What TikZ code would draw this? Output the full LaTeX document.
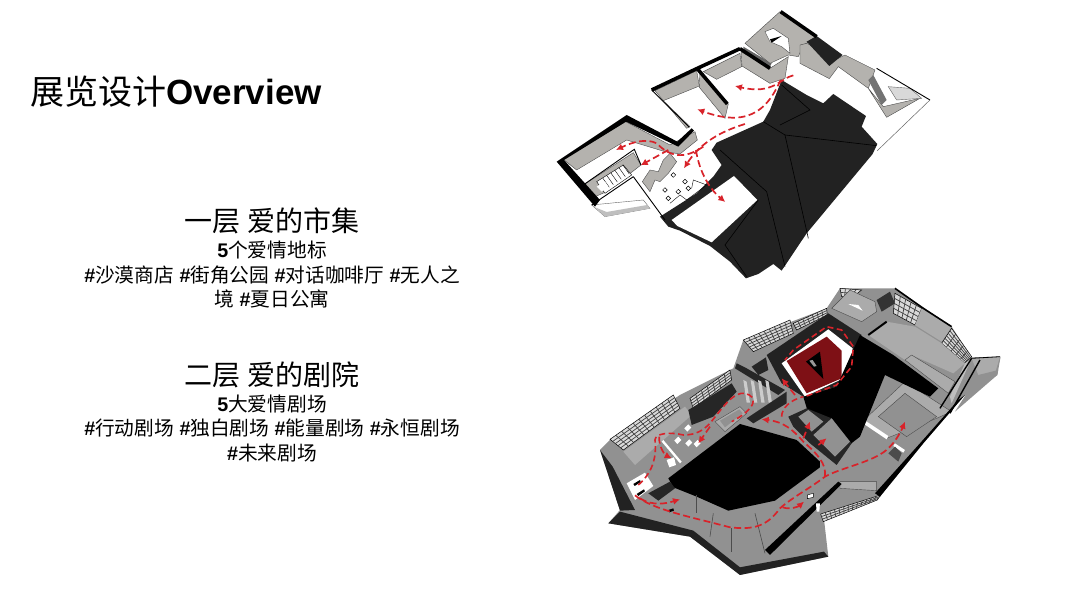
\documentclass[tikz,border=0pt]{standalone}
\usepackage{fontspec}
\setmainfont{Liberation Sans}
\newfontfamily\cjk{Noto Sans CJK SC}
\usetikzlibrary{calc,arrows.meta}
\definecolor{route_red}{HTML}{D8232A}
\definecolor{theatre_red}{HTML}{7E1015}
\definecolor{roof_black}{HTML}{222222}
\definecolor{wall_grey}{HTML}{B4B2AE}
\definecolor{floor_grey}{HTML}{919191}
\definecolor{room_grey}{HTML}{ABABAB}
\newcommand{\tagname}[1]{\textbf{\#}{\cjk #1}}
% glass facade: four corners, grid of mullions
\newcommand{\glasspanel}[6]{%
  \path[fill=white!85!black,draw=black,line width=.5pt] (#1) -- (#2) -- (#3) -- (#4) -- cycle;
  \foreach \t in {1,...,#5} {
    \draw[black!75,line width=.7pt] ($(#1)!{\t/(#5+1)}!(#2)$) -- ($(#4)!{\t/(#5+1)}!(#3)$);
  }
  \foreach \t in {1,...,#6} {
    \draw[black!75,line width=.7pt] ($(#1)!{\t/(#6+1)}!(#4)$) -- ($(#2)!{\t/(#6+1)}!(#3)$);
  }
}
\begin{document}
\begin{tikzpicture}[x=1pt,y=-1pt,
    block_title/.style ={inner sep=0pt, anchor=west,
      font=\fontsize{34}{40}\selectfont},
    block_head/.style ={inner sep=0pt, text height=21pt, text depth=7pt,
      font=\fontsize{28}{30}\selectfont\cjk},
    block_sub/.style ={inner sep=0pt, text height=17pt, text depth=7pt,
      font=\fontsize{19.7}{24}\selectfont},
    block_tags/.style ={block_sub},
    roof/.style ={fill=roof_black},
    wall_top/.style ={draw=black, line width=3.6pt, line join=miter},
    wall_face/.style ={fill=wall_grey, draw=black!70, line width=.4pt},
    thin_black/.style ={draw=black, line width=.9pt},
    crease/.style ={draw=black, line width=.6pt},
    route/.style ={draw=route_red, line width=1.7pt, dash pattern=on 7pt off 3.5pt,
      -{Latex[length=7pt,width=7pt]}},
    route_plain/.style ={draw=route_red, line width=1.6pt, dash pattern=on 6pt off 3.5pt}]
  \useasboundingbox (0,0) rectangle (1080,608);
  \path[fill=white] (0,0) rectangle (1080,608);
  % title
  \node [block_title] (exhibit_title) at (30,92) {{\cjk 展览设计}{\fontsize{35}{40}\selectfont\textbf{Overview}}};
  % text column, one row per printed line
  \matrix (text_column) [row sep=0pt, anchor=north] at (272,207) {
    \node [block_head] (floor_one) {一层 爱的市集}; \\[2pt]
    \node [block_sub] (floor_one_sub) {\textbf{5}{\cjk 个爱情地标}}; \\
    \node [block_tags] (floor_one_tags) {\tagname{沙漠商店} \tagname{街角公园} \tagname{对话咖啡厅} \tagname{无人之}}; \\
    \node [block_tags] (floor_one_more) {{\cjk 境} \tagname{夏日公寓}}; \\[51pt]
    \node [block_head] (floor_two) {二层 爱的剧院}; \\[2pt]
    \node [block_sub] (floor_two_sub) {\textbf{5}{\cjk 大爱情剧场}}; \\
    \node [block_tags] (floor_two_tags) {\tagname{行动剧场} \tagname{独白剧场} \tagname{能量剧场} \tagname{永恒剧场}}; \\
    \node [block_tags] (floor_two_more) {\tagname{未来剧场}}; \\
  };% end matrix

  % ---- ground floor plan, coordinates in zoomed units
  \begin{scope}[shift={(540,0)},x=.3333pt,y=-.3333pt]
    % wall faces
    \path[wall_face] (70,478) -- (257,365) -- (390,435) -- (465,395) -- (472,420) -- (420,462) -- (375,455) -- (260,420) -- (110,510) -- cycle;
    \path[wall_face] (70,490) -- (130,555) -- (280,458) -- (303,495) -- (200,575) -- (165,590) -- cycle;
    \path[fill=white,draw=black,line width=.4pt] (170,545) -- (250,495) -- (275,525) -- (195,580) -- cycle;
    \foreach \t in {0,...,5} {
      \draw[black,line width=.4pt] ({188+\t*12},{534-\t*8}) -- ({208+\t*12},{562-\t*8});
    }
    \path[fill=white] (170,560) -- (195,545) -- (205,560) -- (185,575) -- cycle;
    \path[fill=white,draw=black!60,line width=.4pt] (155,615) -- (195,650) -- (330,625) -- (310,600) -- cycle;
    \path[fill=black!25] (165,622) -- (195,650) -- (330,625) -- (322,615) -- (200,636) -- cycle;
    \path[wall_face] (345,272) -- (470,212) -- (478,258) -- (370,302) -- (450,380) -- (440,385) -- cycle;
    \path[wall_face] (480,212) -- (565,312) -- (555,355) -- (478,262) -- cycle;
    \path[wall_face] (490,215) -- (600,160) -- (605,200) -- (530,238) -- cycle;
    \path[wall_face] (603,155) -- (690,205) -- (745,170) -- (735,235) -- (690,250) -- (606,198) -- cycle;
    \path[fill=black!60] (610,140) -- (695,190) -- (690,200) -- (612,155) -- cycle;
    % stair room at the top
    \path[wall_face] (615,130) -- (690,62) -- (720,35) -- (830,110) -- (800,130) -- (790,135) -- (775,170) -- (745,165) -- (690,190) -- cycle;
    \path[fill=white,draw=black!70,line width=.4pt] (675,95) -- (700,85) -- (745,115) -- (750,160) -- (725,140) -- (690,125) -- cycle;
    \path[fill=black] (690,118) -- (725,108) -- (695,128) -- cycle;
    % east walls
    \path[wall_face] (780,135) -- (800,130) -- (895,175) -- (915,165) -- (1005,210) -- (985,265) -- (1030,320) -- (1140,295) -- (1040,352) -- (985,265) -- (895,200) -- (868,236) -- (780,190) -- cycle;
    \path[fill=black!55] (985,240) -- (1000,225) -- (1040,300) -- (1025,315) -- cycle;
    \path[fill=black!15,draw=black!60,line width=.4pt] (1045,260) -- (1110,265) -- (1145,295) -- (1070,300) -- cycle;
    \draw[thin_black] (1010,205) -- (1170,300);
    \draw[black!60,line width=.5pt] (1170,300) -- (1012,452);
    \path[fill=roof_black] (800,125) -- (830,108) -- (908,165) -- (868,198) -- cycle;
    % roof with the loading yard cut out
    \path[roof] (515,450) -- (530,428) -- (670,365) -- (690,330) -- (725,240) -- (800,285) -- (850,310) -- (880,282) -- (978,348) -- (965,380) -- (1012,432) -- (998,462) -- (800,700) -- (725,812) -- (700,792) -- (655,822) -- (618,835) -- (570,785) -- (510,738) -- (420,692) -- (385,680) -- (360,650) -- (470,580) -- (520,530) -- (545,495) -- cycle;
    \path[fill=white] (582,528) -- (652,600) -- (515,727) -- (412,678) -- (395,660) -- cycle;
    \draw[crease] (670,365) -- (735,405) -- (1010,437);
    \draw[crease] (735,405) -- (805,715);
    \draw[crease] (720,375) -- (810,330) -- (725,255);
    \draw[crease] (540,450) -- (680,575) -- (735,800);
    \draw[crease] (655,600) -- (555,735) -- (620,830);
    % wall tops
    \path[fill=black] (50,485) -- (260,345) -- (412,425) -- (455,385) -- (462,392) -- (415,440) -- (258,365) -- (72,480) -- (180,600) -- (165,620) -- cycle;
    \draw[wall_top] (335,270) -- (470,206) -- (600,146);
    \draw[wall_top] (472,206) -- (562,312);
    \draw[wall_top] (600,146) -- (690,205);
    \draw[wall_top] (722,35) -- (830,110);
    \draw[thin_black] (335,270) -- (448,382);
    \draw[thin_black] (280,530) -- (375,660);
    \draw[thin_black] (155,615) -- (280,530);
    \draw[thin_black] (130,555) -- (283,448) -- (303,495);
    % seating
    \path[wall_face] (307,545) -- (330,510) -- (355,515) -- (370,480) -- (390,460) -- (410,485) -- (385,520) -- (360,545) -- (345,540) -- (330,575) -- cycle;
    \foreach \px/\py in {400/525,435/545,375/570,415/575,385/595,445/565} {
      \draw[black,line width=.5pt,fill=white] ({\px-7},\py) -- (\px,{\py-7}) -- ({\px+7},\py) -- (\px,{\py+7}) -- cycle;
    }
    \draw[black,line width=.4pt] (390,610) -- (420,585) -- (440,600) -- (500,555) -- (460,540) -- (455,565);
    % routes
    \draw[route] (760,226) .. controls (720,235) and (700,285) .. (585,258);
    \draw[route] (722,240) .. controls (690,310) and (640,390) .. (472,328);
    \draw[route] (615,372) .. controls (540,395) and (480,430) .. (432,505);
    \draw[route] (490,440) .. controls (430,480) and (390,470) .. (350,430) .. controls (320,415) and (280,425) .. (228,450);
    \draw[route] (385,450) -- (302,496);
    \draw[route] (468,450) .. controls (475,500) and (500,560) .. (556,606);
  \end{scope}

  % ---- upper floor plan
  \begin{scope}[shift={(590,280)},x=.3333pt,y=-.3333pt]
    \path[fill=floor_grey] (30,510) -- (60,480) -- (270,345) -- (430,265) -- (460,180) -- (710,85) -- (750,25) -- (915,25) -- (1085,140) -- (1145,232) -- (1232,230) -- (1222,285) -- (1120,350) -- (1000,490) -- (870,650) -- (700,700) -- (715,830) -- (450,885) -- (300,770) -- (55,730) -- (90,690) -- cycle;
    % glass facades
    \glasspanel{60,478}{250,345}{270,385}{100,510}{10}{4}
    \glasspanel{300,355}{420,270}{425,300}{310,385}{6}{3}
    \glasspanel{460,180}{600,120}{610,160}{490,215}{8}{4}
    \glasspanel{610,130}{710,85}{712,105}{620,150}{6}{2}
    \glasspanel{750,25}{815,30}{790,50}{755,50}{3}{1}
    \glasspanel{915,40}{995,85}{975,135}{910,100}{4}{3}
    \glasspanel{1085,145}{1145,230}{1125,250}{1055,190}{4}{5}
    \glasspanel{692,702}{872,645}{862,660}{700,725}{12}{2}
    \path[fill=room_grey] (100,515) -- (285,380) -- (305,405) -- (135,555) -- cycle;
    % light rooms on the east side
    \path[fill=room_grey] (995,85) -- (1085,140) -- (1055,185) -- (975,135) -- cycle;
    \path[fill=room_grey] (835,165) -- (890,125) -- (975,140) -- (1055,190) -- (1125,250) -- (1090,280) -- (965,225) -- (945,240) -- cycle;
    \draw[draw=black,line width=2pt] (835,165) -- (890,125);
    \draw[draw=black,line width=1.6pt] (915,25) -- (1000,85) -- (1085,140);
    \path[fill=room_grey,draw=black!70,line width=.4pt] (822,420) -- (945,305) -- (1085,395) -- (1040,415) -- (890,475) -- cycle;
    \path[fill=floor_grey,draw=black!70,line width=.4pt] (865,410) -- (945,340) -- (1040,410) -- (950,470) -- cycle;
    \path[fill=room_grey,draw=black!70,line width=.4pt] (945,240) -- (965,225) -- (1095,305) -- (1075,340) -- cycle;
    \path[fill=white] (820,418) -- (895,468) -- (890,478) -- (816,428) -- cycle;
    \path[fill=white] (915,490) -- (945,510) -- (940,518) -- (910,498) -- cycle;
    \path[fill=black!70] (895,520) -- (915,500) -- (935,520) -- (925,545) -- cycle;
    \path[fill=room_grey,draw=black!70,line width=.4pt] (750,605) -- (860,605) -- (860,632) -- (750,625) -- cycle;
    % stair room, north
    \path[fill=room_grey,draw=black!70,line width=.4pt] (725,85) -- (780,30) -- (855,65) -- (860,95) -- (815,125) -- cycle;
    \path[fill=white] (775,72) -- (805,75) -- (818,92) -- cycle;
    \path[fill=black!80] (860,60) -- (900,35) -- (915,70) -- (875,95) -- cycle;
    % east diagonal fins
    \path[fill=room_grey] (1145,235) -- (1230,230) -- (1215,280) -- (1165,285) -- cycle;
    \path[fill=floor_grey] (1165,285) -- (1225,270) -- (1222,285) -- (1095,395) -- cycle;
    \path[fill=white!75!black] (1080,350) -- (1125,250) -- (1145,235) -- (1085,370) -- cycle;
    \draw[black,line width=1.4pt] (1145,235) -- (1050,385);
    \draw[black,line width=1.4pt] (1170,240) -- (1080,400);
    \draw[black,line width=.8pt] (1145,235) -- (1230,230);
    \path[fill=black] (1125,345) -- (1000,490) -- (870,650) -- (855,640) -- (990,490) -- (1105,360) -- cycle;
    % theatre in the red room
    \path[fill=roof_black] (530,225) -- (715,100) -- (815,165) -- (740,320) -- (640,350) -- (575,310) -- cycle;
    \path[fill=white] (575,250) -- (715,148) -- (788,205) -- (775,288) -- (645,350) -- cycle;
    \path[fill=theatre_red] (590,243) -- (710,170) -- (755,212) -- (755,295) -- (650,340) -- cycle;
    \path[fill=black] (690,215) -- (648,245) -- (700,297) -- cycle;
    \path[fill=white!60!black] (658,242) -- (668,240) -- (680,258) -- (672,260) -- cycle;
    % black volumes
    \path[fill=black] (640,350) -- (740,320) -- (810,165) -- (910,225) -- (1045,325) -- (1020,350) -- (885,285) -- (810,470) -- (778,495) -- (720,420) -- (655,400) -- cycle;
    \path[fill=black] (235,595) -- (450,432) -- (620,480) -- (690,545) -- (690,562) -- (555,662) -- (415,692) -- (320,650) -- (250,622) -- cycle;
    \path[fill=black!85] (440,250) -- (470,265) -- (585,330) -- (565,345) -- (435,265) -- cycle;
    \path[fill=black!85] (295,390) -- (425,310) -- (440,335) -- (370,410) -- (305,435) -- cycle;
    \path[fill=black!85] (485,260) -- (528,232) -- (535,270) -- (505,285) -- cycle;
    \path[fill=room_grey,draw=black!70,line width=.4pt] (375,425) -- (450,380) -- (470,400) -- (405,455) -- cycle;
    \path[fill=floor_grey] (390,422) -- (448,388) -- (458,400) -- (405,442) -- cycle;
    \foreach \px in {460,482,504,526} {
      \path[fill=white!80!black] (\px,300) -- ({\px+10},305) -- ({\px+20},368) -- ({\px+10},368) -- cycle;
    }
    \path[fill=black!85] (470,415) -- (590,335) -- (590,370) -- (490,430) -- cycle;
    % small rooms along the corridor
    \path[fill=black!85] (595,410) -- (650,385) -- (725,415) -- (785,490) -- (740,555) -- (660,490) -- (610,440) -- cycle;
    \path[fill=floor_grey] (625,410) -- (655,390) -- (700,425) -- (665,455) -- cycle;
    \path[fill=floor_grey] (670,465) -- (725,415) -- (780,485) -- (735,530) -- cycle;
    % outer band
    \path[fill=roof_black] (55,730) -- (90,695) -- (310,752) -- (450,862) -- (702,815) -- (715,830) -- (450,885) -- (300,770) -- cycle;
    \path[fill=roof_black] (30,510) -- (68,560) -- (135,690) -- (90,692) -- cycle;
    \path[fill=black] (525,810) -- (745,605) -- (755,612) -- (540,825) -- cycle;
    \path[fill=black!85] (175,640) -- (240,605) -- (255,625) -- (205,662) -- cycle;
    \draw[black!70,line width=.6pt] (320,645) -- (320,700);
    \draw[black!70,line width=.6pt] (370,700) -- (360,770);
    \draw[black!70,line width=.6pt] (425,745) -- (425,815);
    \draw[black!70,line width=.6pt] (495,700) -- (525,820);
    % exhibits
    \path[fill=white] (110,610) -- (165,578) -- (190,618) -- (135,660) -- cycle;
    \path[fill=white] (220,480) -- (275,545) -- (270,550) -- (215,485) -- cycle;
    \path[fill=white] (230,540) -- (252,532) -- (258,555) -- (238,562) -- cycle;
    \foreach \px/\py in {262/482,295/490,320/492,292/445} {
      \path[fill=white] (\px,\py) ++(-9,0) -- ++(12,-12) -- ++(9,10) -- ++(-12,12) -- cycle;
    }
    \path[fill=black] (130,612) -- (150,600) -- (152,606) -- (134,618) -- cycle;
    \path[fill=black] (140,642) -- (162,628) -- (165,634) -- (145,648) -- cycle;
    \path[fill=black] (235,690) -- (250,685) -- (252,692) -- (238,697) -- cycle;
    \path[fill=white,draw=black,line width=.4pt] (652,645) -- (670,640) -- (670,652) -- (652,656) -- cycle;
    \path[fill=white] (678,670) -- (690,670) -- (688,695) -- (680,695) -- cycle;
    % routes
    \draw[route] (135,646) .. controls (190,690) and (300,710) .. (420,742) .. controls (490,750) and (530,740) .. (570,685) .. controls (610,650) and (660,625) .. (705,590) .. controls (760,560) and (860,545) .. (900,500) .. controls (920,480) and (935,450) .. (945,425);
    \draw[route] (705,590) .. controls (710,550) and (680,520) .. (640,485) .. controls (610,450) and (580,425) .. (515,418);
    \draw[route] (640,475) -- (660,425);
    \draw[route] (685,495) -- (710,475);
    \draw[route_plain] (575,410) .. controls (575,385) and (600,360) .. (640,350);
    \draw[route] (150,655) .. controls (190,680) and (230,670) .. (270,658);
    \draw[route] (578,682) .. controls (600,690) and (625,680) .. (642,665);
    \draw[route_plain] (145,615) .. controls (190,575) and (200,530) .. (195,480) .. controls (195,460) and (240,455) .. (280,465) .. controls (320,465) and (340,450) .. (360,430) .. controls (400,380) and (430,335) .. (465,340) .. controls (505,350) and (500,385) .. (425,425);
    \draw[route] (208,470) .. controls (205,500) and (225,525) .. (245,535);
    \draw[route] (360,440) -- (325,490);
    \draw[route_plain] (650,348) -- (740,315) -- (785,260) -- (790,200) -- (755,150) -- (710,140) -- (610,210) -- (585,240);
    \draw[route] (615,345) -- (575,295);
  \end{scope}
\end{tikzpicture}
\end{document}
